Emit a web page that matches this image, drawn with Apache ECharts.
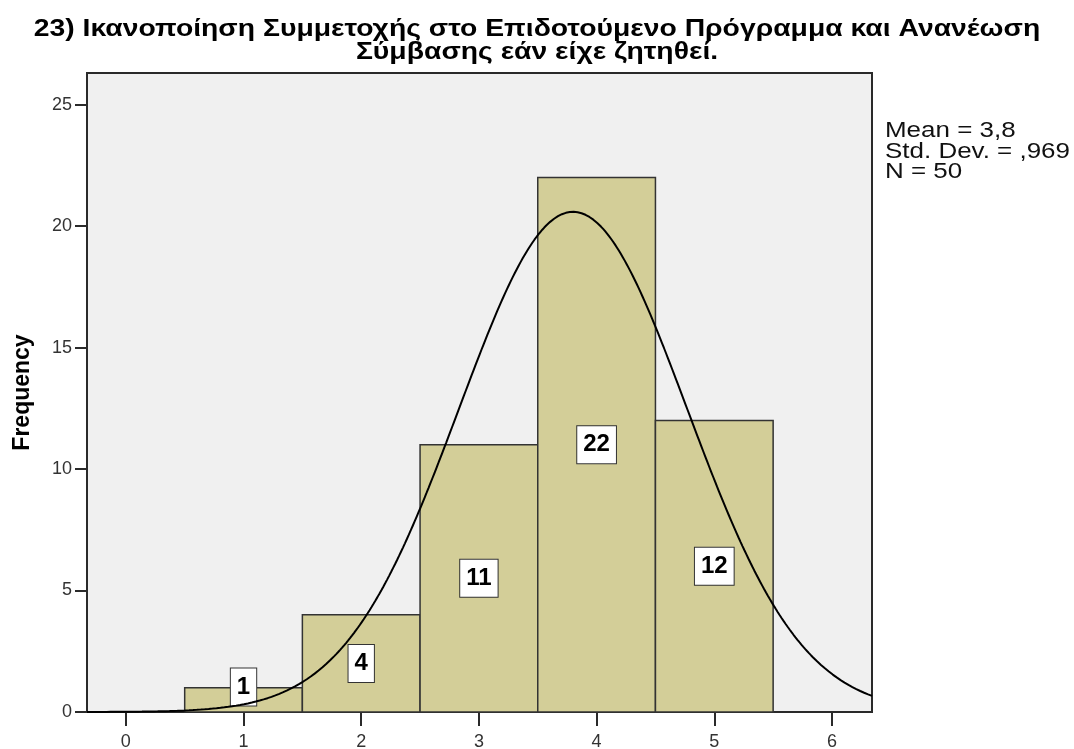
<!DOCTYPE html>
<html>
<head>
<meta charset="utf-8">
<script src="https://cdn.jsdelivr.net/npm/echarts@6/dist/echarts.min.js"></script>
<style>
  html, body { margin: 0; padding: 0; background: #ffffff; }
  #chart { width: 1074px; height: 749px; }
</style>
</head>
<body>
<div id="chart"></div>
<script>
// Histogram bins (value -> frequency)
const binCenters = [1, 2, 3, 4, 5];
const frequencies = [1, 4, 11, 22, 12];

// Summary statistics shown beside the plot
const statMean = 3.8;
const statSd = 0.969;
const statN = 50;
const statLines = ['Mean = 3,8', 'Std. Dev. = ,969', 'N = 50'];

const xTicks = [0, 1, 2, 3, 4, 5, 6];
const yTicks = [0, 5, 10, 15, 20, 25];

const titleLines = [
  '23) Ικανοποίηση Συμμετοχής στο Επιδοτούμενο Πρόγραμμα και Ανανέωση',
  'Σύμβασης εάν είχε ζητηθεί.'
];

const xMin = -0.33, xMax = 6.34;
const yMax = 26.3;
const binWidth = 1;

// Fitted normal curve scaled to counts (N * bin width * density)
const curve = [];
for (let i = 0; i <= 400; i++) {
  const x = xMin + (xMax - xMin) * i / 400;
  const z = (x - statMean) / statSd;
  const y = statN * binWidth * Math.exp(-0.5 * z * z) / (statSd * Math.sqrt(2 * Math.PI));
  curve.push([x, y]);
}

const chart = echarts.init(document.getElementById('chart'));
const fontFam = '"Liberation Sans", Arial, sans-serif';

// Title lines and statistics box, drawn slightly widened
const graphics = titleLines.map((t, i) => ({
  type: 'text',
  x: 537,
  y: 29 + i * 23,
  scaleX: 1.18,
  style: {
    text: t,
    font: 'bold 24px ' + fontFam,
    fill: '#000000',
    align: 'center',
    verticalAlign: 'middle'
  }
}));
statLines.forEach((t, i) => {
  graphics.push({
    type: 'text',
    x: 885,
    y: 131 + i * 20.5,
    scaleX: 1.18,
    style: {
      text: t,
      font: '22px ' + fontFam,
      fill: '#111111',
      align: 'left',
      verticalAlign: 'middle'
    }
  });
});

chart.setOption({
  animation: false,
  backgroundColor: '#ffffff',
  graphic: graphics,
  grid: {
    left: 87,
    top: 73,
    width: 785,
    height: 639,
    outerBoundsMode: 'none',
    containLabel: false,
    show: true,
    backgroundColor: '#f0f0f0',
    borderColor: '#2a2a2a',
    borderWidth: 2
  },
  xAxis: {
    type: 'value',
    min: xMin,
    max: xMax,
    splitLine: { show: false },
    axisLine: { show: true, onZero: false, lineStyle: { color: '#2a2a2a', width: 2 } },
    axisTick: { show: true, customValues: xTicks, length: 14, lineStyle: { color: '#2a2a2a', width: 2 } },
    axisLabel: {
      customValues: xTicks,
      margin: 21,
      fontFamily: fontFam,
      fontSize: 18,
      color: '#333333'
    }
  },
  yAxis: {
    type: 'value',
    min: 0,
    max: yMax,
    name: 'Frequency',
    nameLocation: 'middle',
    nameRotate: 90,
    nameGap: 53,
    nameTextStyle: {
      fontFamily: fontFam,
      fontWeight: 'bold',
      fontSize: 23,
      color: '#000000'
    },
    splitLine: { show: false },
    axisLine: { show: true, onZero: false, lineStyle: { color: '#2a2a2a', width: 2 } },
    axisTick: { show: true, customValues: yTicks, length: 12, lineStyle: { color: '#2a2a2a', width: 2 } },
    axisLabel: {
      customValues: yTicks,
      margin: 15,
      fontFamily: fontFam,
      fontSize: 18,
      color: '#333333'
    }
  },
  series: [
    {
      type: 'custom',
      data: binCenters.map((c, i) => [c, frequencies[i]]),
      renderItem: function (params, api) {
        const c = api.value(0);
        const f = api.value(1);
        const tl = api.coord([c - binWidth / 2, f]);
        const br = api.coord([c + binWidth / 2, 0]);
        let cy = (tl[1] + br[1]) / 2;
        cy = Math.min(cy, br[1] - 25);
        return {
          type: 'group',
          children: [
            {
              type: 'rect',
              shape: { x: tl[0], y: tl[1], width: br[0] - tl[0], height: br[1] - tl[1] },
              style: { fill: '#d3ce98', stroke: '#333333', lineWidth: 1.5 }
            },
            {
              type: 'text',
              x: (tl[0] + br[0]) / 2,
              y: cy,
              z2: 10,
              style: {
                text: String(f),
                font: 'bold 24px ' + fontFam,
                fill: '#000000',
                align: 'center',
                verticalAlign: 'middle',
                backgroundColor: '#ffffff',
                borderColor: '#333333',
                borderWidth: 1,
                padding: [7, 6, 6, 6]
              }
            }
          ]
        };
      },
      z: 2
    },
    {
      type: 'line',
      data: curve,
      showSymbol: false,
      smooth: false,
      lineStyle: { color: '#000000', width: 2 },
      z: 3
    }
  ]
});
</script>
</body>
</html>
